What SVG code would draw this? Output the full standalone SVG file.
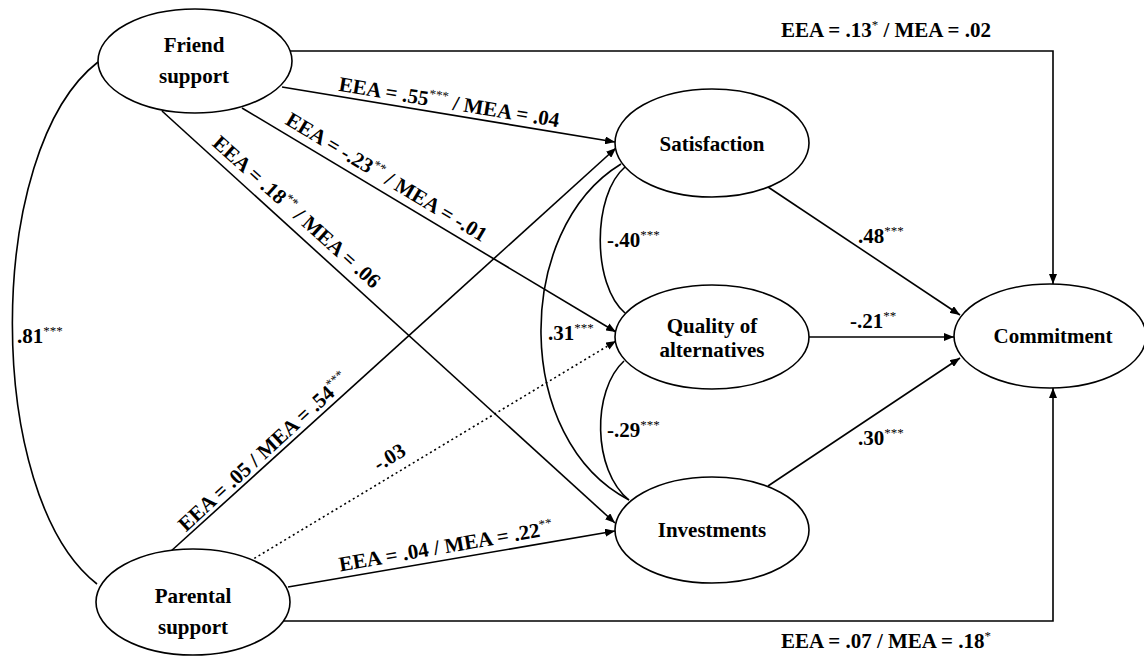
<svg xmlns="http://www.w3.org/2000/svg" width="1144" height="666" viewBox="0 0 1144 666" font-family="'Times New Roman', 'Liberation Serif', 'DejaVu Serif', serif">
<style>
text{font-family:'Times New Roman','Liberation Serif','DejaVu Serif',serif;font-weight:bold;font-size:21px;fill:#000}
.n{text-anchor:middle}
.s{font-size:13px;font-weight:normal}
ellipse{fill:#fff;stroke:#000;stroke-width:1.6}
.c path,.c line{fill:none;stroke:#000;stroke-width:1.6}
.c .a{marker-end:url(#ah)}
.c .d{stroke-dasharray:2 3}
</style>
<defs>
<marker id="ah" markerUnits="userSpaceOnUse" markerWidth="10" markerHeight="8" refX="10" refY="4" orient="auto">
<path d="M0,0 L10,4 L0,8 z" fill="#000"/>
</marker>
</defs>
<g class="c" id="connectors">
<path class="a" d="M290,51 H1053 V284"/>
<path class="a" d="M284,621 H1053 V388"/>
<line class="a" x1="282" y1="87" x2="615" y2="142"/>
<line class="a" x1="242" y1="108" x2="616" y2="332"/>
<line class="a" x1="162" y1="111" x2="615" y2="523"/>
<line class="a" x1="170" y1="552" x2="616" y2="148"/>
<line class="a d" x1="250" y1="561" x2="616" y2="341"/>
<line class="a" x1="288" y1="587" x2="615" y2="531"/>
<line class="a" x1="768" y1="187" x2="960" y2="315"/>
<line class="a" x1="809" y1="337" x2="954" y2="337"/>
<line class="a" x1="768" y1="486" x2="960" y2="358"/>
<path d="M98,62 C-16,150 -16,496 97,584"/>
<path d="M625,167 C592,195 592,285 625,313"/>
<path d="M624,361 C592,390 592,470 629,500"/>
<path d="M621,164 C513,230 513,440 629,500"/>
</g>
<g id="friend"><ellipse cx="195" cy="61" rx="97" ry="52"/><text class="n" x="194" y="52">Friend</text><text class="n" x="194" y="83">support</text></g>
<g id="parental"><ellipse cx="193" cy="602" rx="97" ry="53"/><text class="n" x="193" y="603">Parental</text><text class="n" x="193" y="634">support</text></g>
<g id="satisfaction"><ellipse cx="712" cy="143" rx="97" ry="54"/><text class="n" x="712" y="151">Satisfaction</text></g>
<g id="quality"><ellipse cx="712" cy="337" rx="97" ry="52"/><text class="n" x="712" y="333">Quality of</text><text class="n" x="712" y="357">alternatives</text></g>
<g id="investments"><ellipse cx="712" cy="530" rx="97" ry="53"/><text class="n" x="712" y="537">Investments</text></g>
<g id="commitment"><ellipse cx="1050" cy="336" rx="96" ry="52"/><text class="n" x="1053" y="343">Commitment</text></g>
<g id="labels">
<text class="n" x="886" y="37">EEA = .13<tspan class="s" dy="-8">*</tspan><tspan dy="8"> / MEA = .02</tspan></text>
<text class="n" x="886" y="648">EEA = .07 / MEA = .18<tspan class="s" dy="-8">*</tspan></text>
<text class="n" transform="translate(448,109) rotate(9.4)">EEA = .55<tspan class="s" dy="-8">***</tspan><tspan dy="8"> / MEA = .04</tspan></text>
<text class="n" transform="translate(383,183) rotate(31)">EEA = -.23<tspan class="s" dy="-8">**</tspan><tspan dy="8"> / MEA = -.01</tspan></text>
<text class="n" transform="translate(292,217) rotate(41.8)">EEA = .18<tspan class="s" dy="-8">**</tspan><tspan dy="8"> / MEA = .06</tspan></text>
<text class="n" transform="translate(268,457) rotate(-42.6)">EEA = .05 / MEA = .54<tspan class="s" dy="-8">***</tspan></text>
<text class="n" transform="translate(393,463) rotate(-31)">-.03</text>
<text class="n" transform="translate(447,553) rotate(-9.8)">EEA = .04 / MEA = .22<tspan class="s" dy="-8">**</tspan></text>
<text x="858" y="243">.48<tspan class="s" dy="-8">***</tspan></text>
<text x="850" y="328">-.21<tspan class="s" dy="-8">**</tspan></text>
<text x="858" y="445">.30<tspan class="s" dy="-8">***</tspan></text>
<text x="607" y="247">-.40<tspan class="s" dy="-8">***</tspan></text>
<text x="607" y="437">-.29<tspan class="s" dy="-8">***</tspan></text>
<text x="548" y="340">.31<tspan class="s" dy="-8">***</tspan></text>
<text x="17" y="343">.81<tspan class="s" dy="-8">***</tspan></text>
</g>
</svg>
